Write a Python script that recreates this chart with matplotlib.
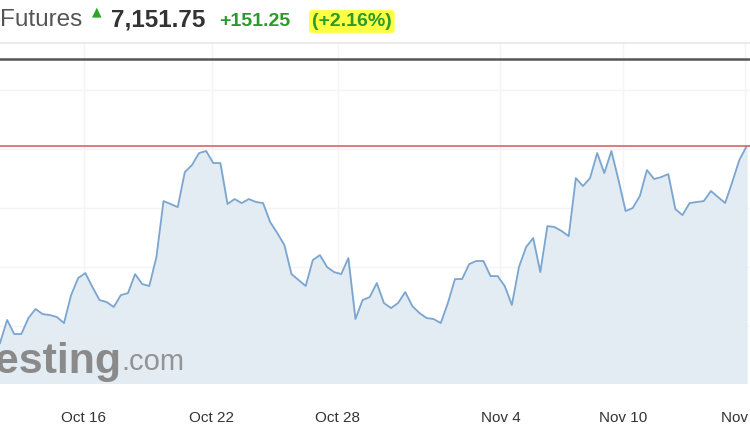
import matplotlib
matplotlib.use('Agg')
import matplotlib.pyplot as plt
from matplotlib.lines import Line2D
import numpy as np

plt.rcParams['font.family'] = ['Liberation Sans', 'DejaVu Sans']

# price series (one point per bar, left to right)
prices = [
    6985.2, 7004.7, 6992.8, 6992.8, 7006.4, 7014.0, 7009.7, 7008.9, 7007.2, 7002.1,
    7025.8, 7040.3, 7044.5, 7032.6, 7021.6, 7019.9, 7015.7, 7025.8, 7027.5, 7043.6,
    7035.2, 7033.5, 7058.0, 7105.5, 7103.0, 7100.4, 7130.1, 7136.0, 7146.2, 7147.9,
    7137.7, 7137.7, 7103.0, 7107.2, 7103.8, 7107.2, 7104.7, 7103.8, 7087.7, 7078.4,
    7068.2, 7043.6, 7038.6, 7033.5, 7055.5, 7059.7, 7049.6, 7045.3, 7043.6, 7057.2,
    7005.5, 7021.6, 7024.1, 7036.0,
    7019.1, 7014.8, 7019.1, 7028.4, 7016.5, 7010.6, 7006.4, 7005.5, 7002.1, 7019.1,
    7039.4, 7039.4, 7052.1, 7054.7, 7054.7, 7041.9, 7041.9, 7033.5, 7017.4, 7049.6,
    7066.5, 7074.1, 7045.3, 7084.3, 7083.5, 7080.1, 7075.8, 7125.0, 7118.2, 7125.0,
    7146.2, 7129.2, 7147.9, 7123.3, 7097.0, 7099.6, 7109.7, 7131.8, 7124.2, 7125.8,
    7128.4, 7098.7, 7093.6, 7103.8, 7104.7, 7105.5, 7114.0, 7108.9, 7103.8, 7121.6,
    7140.3, 7151.75,
]
last_price = 7151.75
tick_pos = [11.8, 29.8, 47.5, 70.4, 87.6, 104.8]
tick_labels = ['Oct 16', 'Oct 22', 'Oct 28', 'Nov 4', 'Nov 10', 'Nov 16']
grid_levels = [7000, 7050, 7100, 7150, 7200]

x = np.arange(len(prices))

fig = plt.figure(figsize=(7.5, 4.3), dpi=100)
ax = fig.add_axes([0, 47 / 430, 1, 324 / 430])
ax.set_xlim(0, 105.5)
ax.set_ylim(6951.3, 7225.9)

for g in grid_levels:
    ax.axhline(g, color='#f4f4f4', lw=1, zorder=0)
for t in tick_pos:
    ax.axvline(t, ymin=0, ymax=1.0525, color='#f4f4f4', lw=1, zorder=0, clip_on=False)

ax.fill_between(x, prices, 6900, color='#e3ebf3', zorder=1)
ax.plot(x, prices, color='#7ba6cf', lw=1.3, zorder=2)
ax.axhline(last_price, color='#cf6a66', lw=1.2, zorder=3)

for s in ['left', 'right', 'bottom']:
    ax.spines[s].set_visible(False)
ax.spines['top'].set_color('#555555')
ax.spines['top'].set_linewidth(1.8)
ax.set_yticks([])
ax.set_xticks(tick_pos)
ax.set_xticklabels(tick_labels)
ax.tick_params(axis='x', length=0, pad=20, labelsize=11, labelcolor='#333333')

# separator line above the plot
fig.add_artist(Line2D([0, 1], [0.9005, 0.9005], color='#e8e8e8', lw=1.2))

# header
yb = (430 - 26) / 430
fig.text(0.0, yb, 'Futures', fontsize=17.5, color='#555555', va='baseline')
fig.text(97 / 750, (430 - 12) / 430, '▲', fontsize=9, color='#2aa52a',
         ha='center', va='center', family='DejaVu Sans')
fig.text(111 / 750, yb, '7,151.75', fontsize=17.5, color='#333333',
         weight='bold', va='baseline')
fig.text(219 / 750, yb, '+151.25', fontsize=14, color='#2a9a2a',
         weight='bold', va='baseline')
fig.text(312 / 750, yb, '(+2.16%)', fontsize=14, color='#2a9a2a',
         weight='bold', va='baseline',
         bbox=dict(boxstyle='round,pad=0.15', facecolor='#ffff44', edgecolor='none'))

# watermark
fig.text(121 / 750, (430 - 373) / 430, 'Investing', fontsize=31, weight='bold',
         color='#808080', alpha=0.9, ha='right', va='baseline')
fig.text(121 / 750, (430 - 370) / 430, '.com', fontsize=21, color='#8a8a8a',
         alpha=0.9, ha='left', va='baseline')

plt.savefig('out.png', dpi=100)
